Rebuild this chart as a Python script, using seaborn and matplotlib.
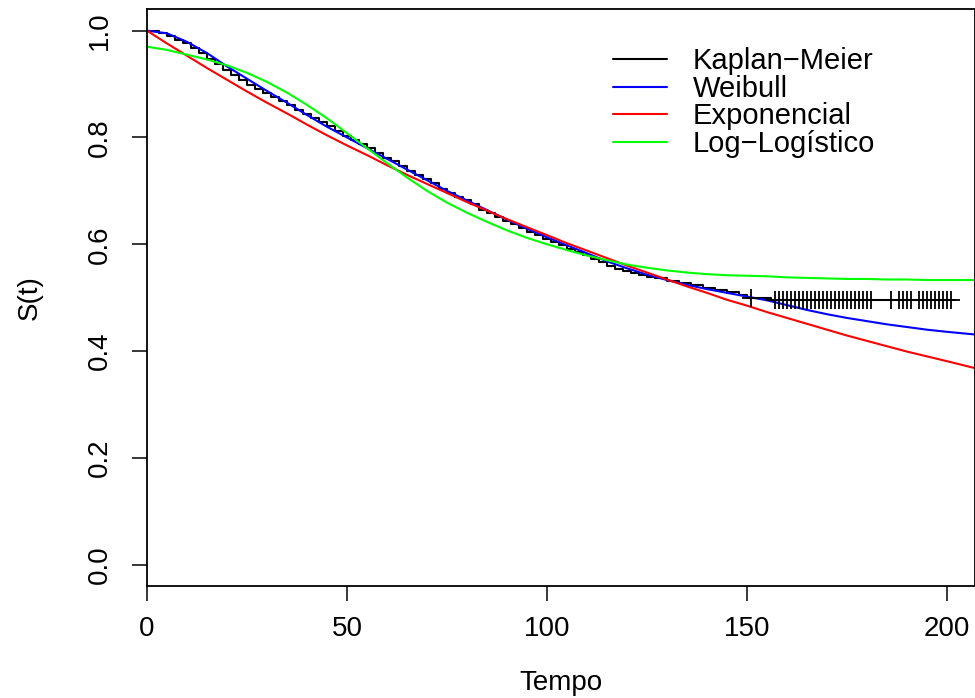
import numpy as np
import pandas as pd
import matplotlib
matplotlib.use("Agg")
import matplotlib.pyplot as plt
import seaborn as sns

# ---------------- data ----------------
km_time = [0, 3, 5, 7, 9, 11, 13, 15, 17, 19, 21, 23, 25, 27, 29, 31, 33, 35, 37, 39,
           41, 43, 45, 47, 49, 51, 53, 55, 57, 59, 61, 63, 65, 67, 69, 71, 73, 75, 77, 79,
           81, 83, 85, 87, 89, 91, 93, 95, 97, 99, 101, 103, 105, 107, 109, 111, 113, 115,
           117, 119, 121, 123, 125, 127, 130, 133, 136, 139, 142, 145, 148, 150, 156, 201]
km_surv = [1.0, 0.995, 0.990, 0.983, 0.976, 0.968, 0.958, 0.947, 0.937, 0.926, 0.917,
           0.907, 0.899, 0.891, 0.883, 0.875, 0.868, 0.861, 0.852, 0.843, 0.836, 0.829,
           0.821, 0.813, 0.803, 0.795, 0.788, 0.780, 0.770, 0.762, 0.755, 0.747, 0.737,
           0.729, 0.722, 0.714, 0.704, 0.696, 0.689, 0.682, 0.675, 0.665, 0.658, 0.651,
           0.644, 0.637, 0.630, 0.623, 0.617, 0.610, 0.604, 0.598, 0.591, 0.585, 0.579,
           0.572, 0.566, 0.560, 0.554, 0.549, 0.546, 0.543, 0.539, 0.536, 0.532, 0.527,
           0.523, 0.519, 0.514, 0.510, 0.505, 0.500, 0.495, 0.495]
cens_time = [151, 157, 158, 159, 160, 161, 162, 163, 164, 165, 166, 167, 168, 169, 170,
             171, 172, 173, 174, 175, 176, 177, 178, 179, 180, 181,
             186, 188, 189, 190, 191, 193, 194, 195, 196, 197, 198, 199, 200, 201]

fit_time = [0, 5, 10, 15, 20, 25, 30, 35, 40, 45, 50, 55, 60, 65, 70, 75, 80, 85, 90,
            95, 100, 105, 110, 115, 120, 125, 130, 135, 140, 145, 150, 155, 160, 165,
            170, 175, 180, 185, 190, 195, 200, 207]
weibull = [1.0, 0.995, 0.979, 0.958, 0.933, 0.910, 0.887, 0.865, 0.842, 0.820, 0.800,
           0.780, 0.760, 0.740, 0.720, 0.700, 0.682, 0.664, 0.646, 0.629, 0.613, 0.598,
           0.583, 0.568, 0.555, 0.543, 0.533, 0.524, 0.516, 0.509, 0.502, 0.495, 0.486,
           0.477, 0.469, 0.462, 0.456, 0.450, 0.445, 0.440, 0.436, 0.431]
exponencial = [1.0, 0.976, 0.953, 0.930, 0.908, 0.886, 0.865, 0.845, 0.824, 0.804, 0.785,
               0.767, 0.748, 0.730, 0.713, 0.696, 0.679, 0.663, 0.647, 0.632, 0.617, 0.602,
               0.588, 0.574, 0.560, 0.547, 0.534, 0.521, 0.509, 0.496, 0.485, 0.473, 0.462,
               0.451, 0.440, 0.429, 0.419, 0.409, 0.399, 0.390, 0.381, 0.368]
loglogistico = [0.970, 0.964, 0.955, 0.946, 0.935, 0.921, 0.904, 0.884, 0.861, 0.836,
                0.808, 0.780, 0.752, 0.725, 0.700, 0.678, 0.659, 0.642, 0.626, 0.612,
                0.600, 0.589, 0.579, 0.570, 0.562, 0.556, 0.551, 0.547, 0.544, 0.542,
                0.541, 0.540, 0.538, 0.537, 0.536, 0.535, 0.535, 0.534, 0.534, 0.533,
                0.533, 0.533]

x_ticks = [0, 50, 100, 150, 200]
y_ticks = [0.0, 0.2, 0.4, 0.6, 0.8, 1.0]
labels = ["Kaplan\u2212Meier", "Weibull", "Exponencial", "Log\u2212Logístico"]

# ---------------- style ----------------
sns.set_style("ticks")
plt.rcParams['font.family'] = ['Liberation Sans', 'DejaVu Sans']
plt.rcParams['text.color'] = 'black'
plt.rcParams['axes.labelcolor'] = 'black'
plt.rcParams['xtick.color'] = 'black'
plt.rcParams['ytick.color'] = 'black'
FS = 20

fig = plt.figure(figsize=(9.75, 6.98), dpi=100)
W, H = 975, 698
ax = fig.add_axes([147 / W, 112 / H, 828 / W, 576.7 / H])

lw = 1.5
sns.lineplot(x=km_time, y=km_surv, drawstyle="steps-post", color="black", lw=lw,
             estimator=None, ax=ax, label=labels[0])
sns.lineplot(x=fit_time, y=weibull, color="#0000FF", lw=lw, estimator=None, ax=ax,
             label=labels[1])
sns.lineplot(x=fit_time, y=exponencial, color="#FF0000", lw=lw, estimator=None, ax=ax,
             label=labels[2])
sns.lineplot(x=fit_time, y=loglogistico, color="#00FF00", lw=lw, estimator=None, ax=ax,
             label=labels[3])

# censored marks placed on the KM step curve
kt = np.array(km_time)
ks = np.array(km_surv)
idx = np.searchsorted(kt, np.array(cens_time), side="right") - 1
cens_surv = ks[idx]
sns.scatterplot(x=cens_time, y=cens_surv, marker="+", s=150, color="black",
                linewidth=1.3, ax=ax, legend=False, zorder=5)

ax.set_xlim(0, 207)
ax.set_ylim(-0.04, 1.04)
ax.set_xticks(x_ticks)
ax.set_xticklabels([str(v) for v in x_ticks])
ax.set_yticks(y_ticks)
ax.set_yticklabels([f"{v:.1f}" for v in y_ticks], rotation=90, va="center")

for s in ax.spines.values():
    s.set_visible(True)
    s.set_linewidth(1.3)
    s.set_color("black")

ax.tick_params(axis="both", direction="out", length=10.5, width=1.1, colors="black",
               labelsize=FS)
ax.tick_params(axis="x", pad=11)
ax.tick_params(axis="y", pad=14)

ax.set_xlabel("Tempo", fontsize=FS, color="black")
ax.set_ylabel("S(t)", fontsize=FS, color="black")
ax.xaxis.set_label_coords(0.5, (15 - 112) / 576.7)
ax.xaxis.label.set_va("center")
ax.yaxis.set_label_coords((30 - 147) / 828, 0.5)
ax.yaxis.label.set_va("center")

leg = ax.legend(loc="upper left", bbox_to_anchor=((613 - 147) / 828, (586 - 47) / 576.7),
                frameon=False, fontsize=21, borderaxespad=0, borderpad=0,
                handlelength=54 / 29.2, handletextpad=26 / 29.2, labelspacing=-0.01)
for line in leg.get_lines():
    line.set_linewidth(1.5)
for t in leg.get_texts():
    t.set_color("black")

fig.savefig("out.png", dpi=100)
